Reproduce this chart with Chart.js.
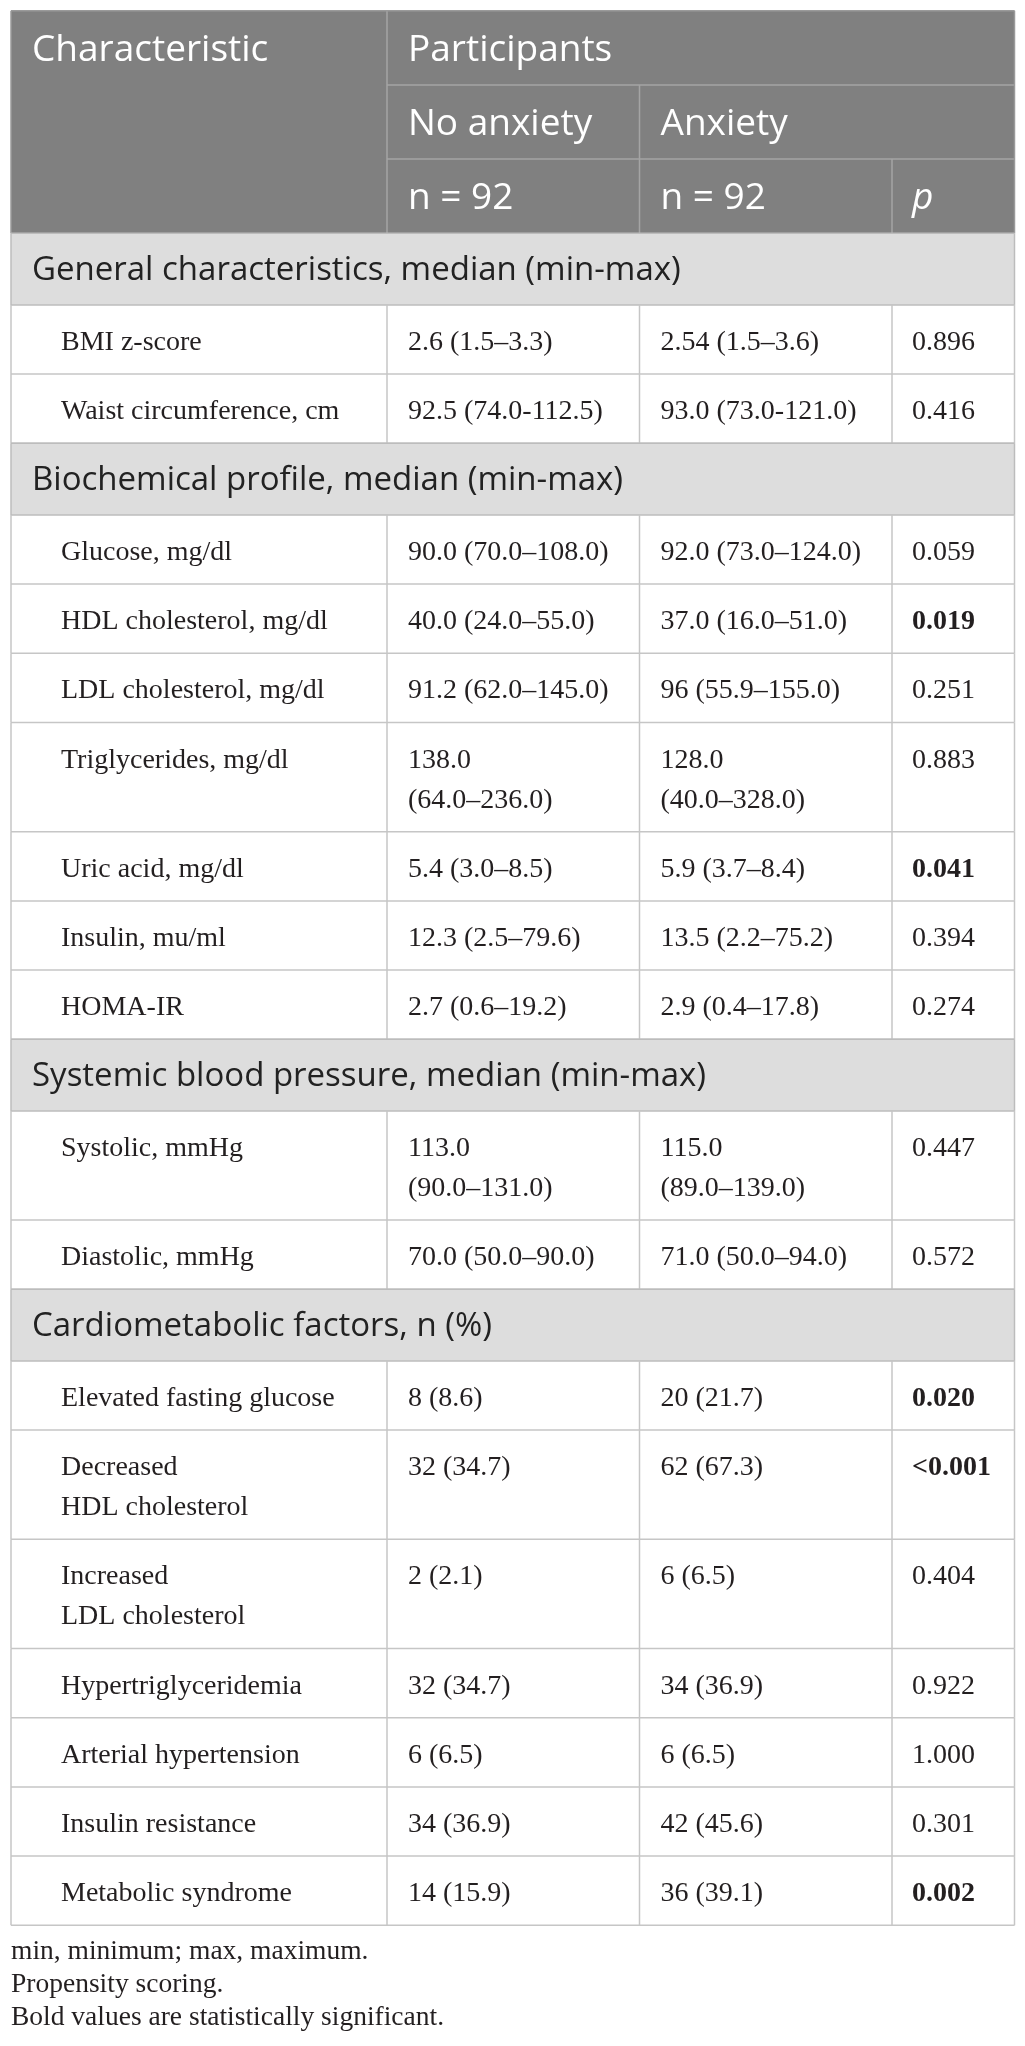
<!DOCTYPE html>
<html>
<head>
<meta charset="utf-8">
<title>Cardiometabolic characteristics by anxiety</title>
<script src="https://cdn.jsdelivr.net/npm/chart.js@4.4.1/dist/chart.umd.min.js"></script>
<style>
  html, body { margin: 0; padding: 0; background: #fff; }
  #wrap { position: relative; width: 1025px; height: 2046px; }
</style>
</head>
<body>
<div id="wrap"><canvas id="table"></canvas></div>
<script>
// table content
const sections = [
    'General characteristics, median (min-max)',
    'Biochemical profile, median (min-max)',
    'Systemic blood pressure, median (min-max)',
    'Cardiometabolic factors, n (%)'
];
const sectionOf = [0, 0, 1, 1, 1, 1, 1, 1, 1, 2, 2, 3, 3, 3, 3, 3, 3, 3];
const characteristics = [
    'BMI z-score', 'Waist circumference, cm',
    'Glucose, mg/dl', 'HDL cholesterol, mg/dl', 'LDL cholesterol, mg/dl',
    'Triglycerides, mg/dl', 'Uric acid, mg/dl', 'Insulin, mu/ml', 'HOMA-IR',
    'Systolic, mmHg', 'Diastolic, mmHg',
    'Elevated fasting glucose', 'Decreased\nHDL cholesterol', 'Increased\nLDL cholesterol',
    'Hypertriglyceridemia', 'Arterial hypertension', 'Insulin resistance', 'Metabolic syndrome'
];
const noAnxiety = [
    '2.6 (1.5\u20133.3)', '92.5 (74.0-112.5)',
    '90.0 (70.0\u2013108.0)', '40.0 (24.0\u201355.0)', '91.2 (62.0\u2013145.0)',
    '138.0\n(64.0\u2013236.0)', '5.4 (3.0\u20138.5)', '12.3 (2.5\u201379.6)', '2.7 (0.6\u201319.2)',
    '113.0\n(90.0\u2013131.0)', '70.0 (50.0\u201390.0)',
    '8 (8.6)', '32 (34.7)', '2 (2.1)', '32 (34.7)', '6 (6.5)', '34 (36.9)', '14 (15.9)'
];
const anxiety = [
    '2.54 (1.5\u20133.6)', '93.0 (73.0-121.0)',
    '92.0 (73.0\u2013124.0)', '37.0 (16.0\u201351.0)', '96 (55.9\u2013155.0)',
    '128.0\n(40.0\u2013328.0)', '5.9 (3.7\u20138.4)', '13.5 (2.2\u201375.2)', '2.9 (0.4\u201317.8)',
    '115.0\n(89.0\u2013139.0)', '71.0 (50.0\u201394.0)',
    '20 (21.7)', '62 (67.3)', '6 (6.5)', '34 (36.9)', '6 (6.5)', '42 (45.6)', '36 (39.1)'
];
const pValues = [
    '0.896', '0.416',
    '0.059', '0.019', '0.251', '0.883', '0.041', '0.394', '0.274',
    '0.447', '0.572',
    '0.020', '<0.001', '0.404', '0.922', '1.000', '0.301', '0.002'
];
const groupNames = ['No anxiety', 'Anxiety'];
const groupSizes = [92, 92];
const footnotes = [
    'min, minimum; max, maximum.',
    'Propensity scoring.',
    'Bold values are statistically significant.'
];

// layout (page pixels, mapped through the chart scales)
const COLS = [11, 387, 639.5, 892, 1014.5];
const TOP = 10.7;
const HEAD_ROW = 74.2;
const SECTION_H = 71.6;
const ROW_H = 69.2;
const LINE_H = 40;

const SANS = '"Open Sans", "Noto Sans", sans-serif';
const SERIF = '"Liberation Serif", "DejaVu Serif", serif';

const tablePlugin = {
    id: 'tableDraw',
    afterDraw(chart) {
        const ctx = chart.ctx;
        const sx = v => chart.scales.x.getPixelForValue(v);
        const sy = v => chart.scales.y.getPixelForValue(v);

        function rect(x0, y0, x1, y1, color) {
            ctx.fillStyle = color;
            ctx.fillRect(sx(x0), sy(y0), sx(x1) - sx(x0), sy(y1) - sy(y0));
        }
        function hline(x0, x1, y, color) {
            ctx.strokeStyle = color;
            ctx.lineWidth = 1.5;
            ctx.beginPath();
            ctx.moveTo(sx(x0), sy(y));
            ctx.lineTo(sx(x1), sy(y));
            ctx.stroke();
        }
        function vline(x, y0, y1, color) {
            ctx.strokeStyle = color;
            ctx.lineWidth = 1.5;
            ctx.beginPath();
            ctx.moveTo(sx(x), sy(y0));
            ctx.lineTo(sx(x), sy(y1));
            ctx.stroke();
        }
        function text(str, x, y, font, color) {
            ctx.font = font;
            ctx.fillStyle = color;
            ctx.textBaseline = 'alphabetic';
            ctx.textAlign = 'left';
            str.split('\n').forEach((line, i) => ctx.fillText(line, sx(x), sy(y + i * LINE_H)));
        }

        const left = COLS[0], right = COLS[4];
        const headFont = '37px ' + SANS;
        const headLine = '#a4a4a4';

        // header block
        const h1 = TOP + HEAD_ROW, h2 = TOP + 2 * HEAD_ROW, h3 = TOP + 3 * HEAD_ROW;
        rect(left, TOP, right, h3, '#808080');
        hline(COLS[1], right, h1, headLine);
        hline(COLS[1], right, h2, headLine);
        vline(COLS[1], TOP, h3, headLine);
        vline(COLS[2], h1, h3, headLine);
        vline(COLS[3], h2, h3, headLine);
        hline(left, right, TOP, '#9a9a9a');
        vline(left, TOP, h3, '#9a9a9a');
        vline(right, TOP, h3, '#9a9a9a');

        text('Characteristic', 32, TOP + 50, headFont, '#fff');
        text('Participants', COLS[1] + 21, TOP + 50, headFont, '#fff');
        text(groupNames[0], COLS[1] + 21, h1 + 50, headFont, '#fff');
        text(groupNames[1], COLS[2] + 21, h1 + 50, headFont, '#fff');
        text('n = ' + groupSizes[0], COLS[1] + 21, h2 + 50, headFont, '#fff');
        text('n = ' + groupSizes[1], COLS[2] + 21, h2 + 50, headFont, '#fff');
        text('p', COLS[3] + 20, h2 + 50, 'italic ' + headFont, '#fff');

        // body
        const grid = '#c6c6c6';
        const bodyFont = '28px ' + SERIF;
        const ink = '#231f20';
        let y = h3;
        let current = -1;
        characteristics.forEach((name, i) => {
            if (sectionOf[i] !== current) {
                current = sectionOf[i];
                rect(left, y, right, y + SECTION_H, '#dddddd');
                hline(left, right, y, '#bcbcbc');
                hline(left, right, y + SECTION_H, '#bcbcbc');
                vline(left, y, y + SECTION_H, '#bcbcbc');
                vline(right, y, y + SECTION_H, '#bcbcbc');
                text(sections[current], 32, y + 46.5, '33px ' + SANS, '#222');
                y += SECTION_H;
            }
            const lines = Math.max(name.split('\n').length, noAnxiety[i].split('\n').length,
                anxiety[i].split('\n').length);
            const h = ROW_H + (lines - 1) * LINE_H;
            COLS.forEach(cx => vline(cx, y, y + h, grid));
            hline(left, right, y + h, grid);

            const p = pValues[i];
            const significant = parseFloat(p.replace('<', '')) < 0.05;
            text(name, 61, y + 45, bodyFont, ink);
            text(noAnxiety[i], COLS[1] + 21, y + 45, bodyFont, ink);
            text(anxiety[i], COLS[2] + 21, y + 45, bodyFont, ink);
            text(p, COLS[3] + 20, y + 45, (significant ? 'bold ' : '') + bodyFont, ink);
            y += h;
        });

        // footnotes
        footnotes.forEach((note, i) => text(note, 11, y + 34 + i * 33, '27.5px ' + SERIF, ink));
    }
};

new Chart(document.getElementById('table'), {
    type: 'scatter',
    data: { datasets: [] },
    options: {
        responsive: true,
        maintainAspectRatio: false,
        animation: false,
        layout: { padding: 0 },
        scales: {
            x: { type: 'linear', min: 0, max: 1025, display: false },
            y: { type: 'linear', min: 0, max: 2046, reverse: true, display: false }
        },
        plugins: {
            legend: { display: false },
            tooltip: { enabled: false }
        }
    },
    plugins: [tablePlugin]
});
</script>
</body>
</html>
